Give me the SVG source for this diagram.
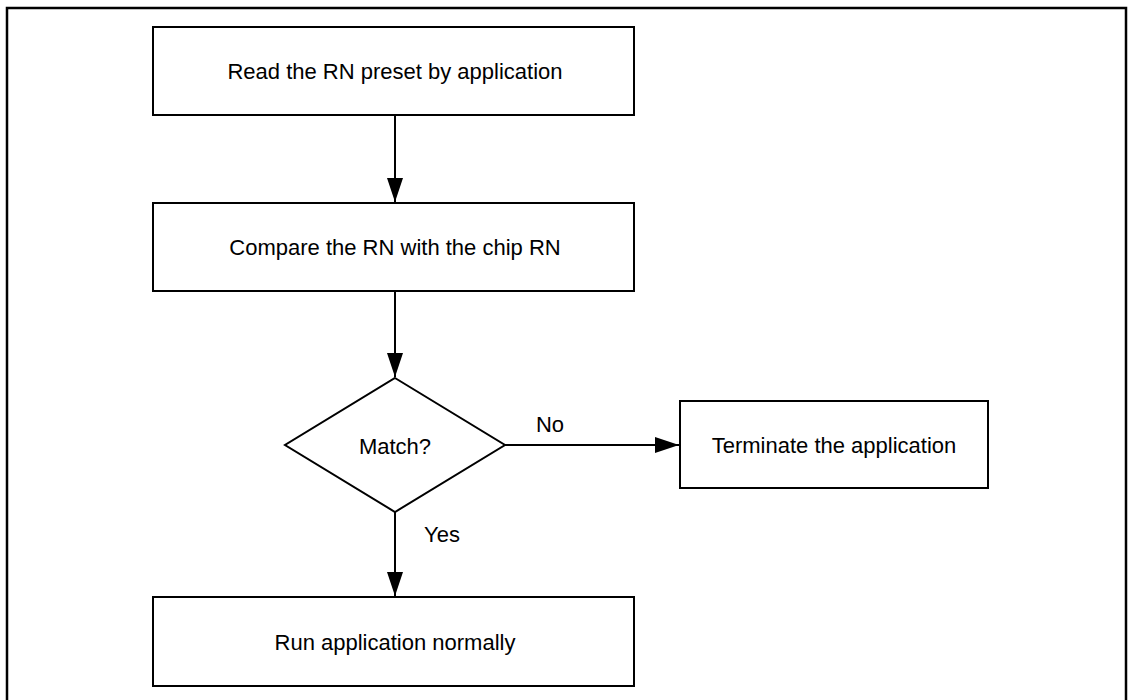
<svg xmlns="http://www.w3.org/2000/svg" width="1130" height="700" viewBox="0 0 1130 700">
<style>
.box{fill:#fff;stroke:#000;stroke-width:2}
.frame{fill:none;stroke:#000;stroke-width:2.5}
.lbl{font-family:"Liberation Sans",Arial,sans-serif;font-size:22px;fill:#000;text-anchor:middle;dominant-baseline:central}
.edge{fill:none;stroke:#000;stroke-width:2}
</style>
<defs>
<marker id="arr" markerWidth="24" markerHeight="16" refX="24" refY="8" orient="auto" markerUnits="userSpaceOnUse">
<path d="M0,0 L24,8 L0,16 Z" fill="#000"/>
</marker>
</defs>
<rect class="frame" x="7" y="8" width="1119" height="720"/>
<g id="connectors">
<line class="edge" x1="395" y1="115" x2="395" y2="202" marker-end="url(#arr)"/>
<line class="edge" x1="395" y1="291" x2="395" y2="377" marker-end="url(#arr)"/>
<line class="edge" x1="505" y1="445" x2="679" y2="445" marker-end="url(#arr)"/>
<line class="edge" x1="395" y1="512" x2="395" y2="596" marker-end="url(#arr)"/>
<text class="lbl" x="550" y="424">No</text>
<text class="lbl" x="442" y="534">Yes</text>
</g>
<g id="read">
<rect class="box" x="153" y="27" width="481" height="88"/>
<text class="lbl" x="395" y="71">Read the RN preset by application</text>
</g>
<g id="compare">
<rect class="box" x="153" y="203" width="481" height="88"/>
<text class="lbl" x="395" y="247">Compare the RN with the chip RN</text>
</g>
<g id="match">
<polygon class="box" points="395,378 505,445 395,512 285,445"/>
<text class="lbl" x="395" y="446">Match?</text>
</g>
<g id="terminate">
<rect class="box" x="680" y="401" width="308" height="87"/>
<text class="lbl" x="834" y="445">Terminate the application</text>
</g>
<g id="run">
<rect class="box" x="153" y="597" width="481" height="89"/>
<text class="lbl" x="395" y="642">Run application normally</text>
</g>
</svg>
